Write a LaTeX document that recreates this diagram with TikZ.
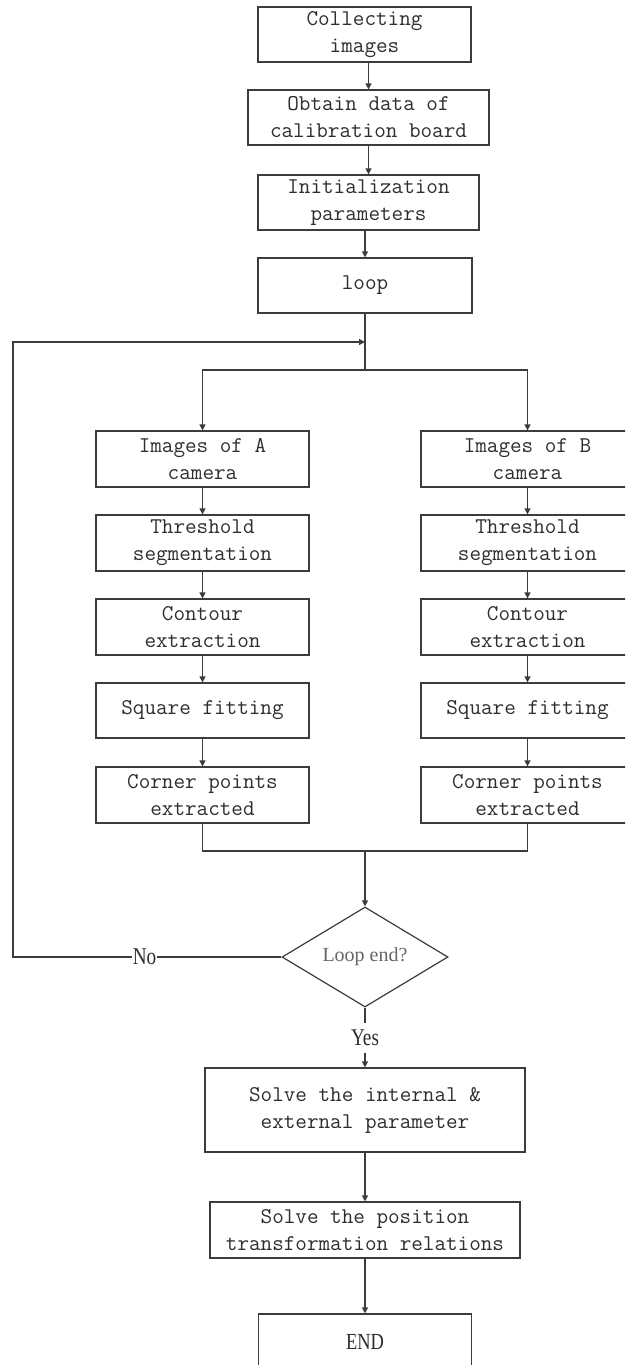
\documentclass[tikz,border=0pt]{standalone}
\usepackage{fontspec}
\setmainfont{Liberation Serif}
\newfontfamily\condfont[FakeStretch=0.8]{Liberation Serif}
\usetikzlibrary{arrows.meta,shapes.geometric}
\definecolor{lncol}{HTML}{3C3C3C}
\definecolor{txcol}{HTML}{2E2E2E}
\begin{document}
\begin{tikzpicture}[x=1pt,y=-1pt,
  box/.style={draw=lncol, line width=1.2pt, align=center, inner sep=0pt,
    font=\ttfamily\fontsize{22.5}{27}\selectfont, text=txcol, minimum height=55pt},
  arr/.style={draw=lncol, line width=1.2pt, -{Triangle[length=6pt,width=6pt]}},
  ln/.style={draw=lncol, line width=1.2pt},
  lbl/.style={fill=white, inner sep=1pt, text=txcol, font=\condfont\fontsize{24}{24}\selectfont},
  dec/.style={draw=lncol, line width=1.2pt, diamond, aspect=1.66, inner sep=0pt,
    minimum width=166pt, minimum height=100pt, text=black!60,
    font=\rmfamily\fontsize{20}{20}\selectfont}
]
\useasboundingbox (0,0) rectangle (625,1365);
\clip (0,0) rectangle (625,1365);
\fill[white] (0,0) rectangle (625,1365);

% top chain
\node[box, minimum width=213pt] (c1) at (364.5,34.5) {Collecting\\images};
\node[box, minimum width=241pt] (c2) at (368.5,117.5) {Obtain data of\\calibration board};
\node[box, minimum width=221pt] (c3) at (368.5,202.5) {Initialization\\parameters};
\node[box, minimum width=214pt] (lp) at (365,285.5) {loop};

\draw[arr] (c2.north |- c1.south) -- (c2.north);
\draw[arr] (c3.north |- c2.south) -- (c3.north);
\draw[arr] (lp.north |- c3.south) -- (lp.north);

% branches
\coordinate (jn) at (365,342);
\coordinate (br) at (365,370);
\coordinate (mg) at (365,851);

\node[box, minimum width=213pt, minimum height=56pt] (ia) at (202.5,459) {Images of A\\camera};
\node[box, minimum width=213pt, minimum height=56pt] (ta) at (202.5,543) {Threshold\\segmentation};
\node[box, minimum width=213pt, minimum height=56pt] (oa) at (202.5,627) {Contour\\extraction};
\node[box, minimum width=213pt] (sa) at (202.5,710.5) {Square fitting};
\node[box, minimum width=213pt, minimum height=56pt] (ka) at (202.5,795) {Corner points\\extracted};

\node[box, minimum width=213pt, minimum height=56pt] (ib) at (527.5,459) {Images of B\\camera};
\node[box, minimum width=213pt, minimum height=56pt] (tb) at (527.5,543) {Threshold\\segmentation};
\node[box, minimum width=213pt, minimum height=56pt] (ob) at (527.5,627) {Contour\\extraction};
\node[box, minimum width=213pt] (sb) at (527.5,710.5) {Square fitting};
\node[box, minimum width=213pt, minimum height=56pt] (kb) at (527.5,795) {Corner points\\extracted};

\draw[ln] (lp.south) -- (br);
\draw[arr] (br) -| (ia.north);
\draw[arr] (br) -| (ib.north);

\draw[arr] (ia) -- (ta);
\draw[arr] (ta) -- (oa);
\draw[arr] (oa) -- (sa);
\draw[arr] (sa) -- (ka);
\draw[arr] (ib) -- (tb);
\draw[arr] (tb) -- (ob);
\draw[arr] (ob) -- (sb);
\draw[arr] (sb) -- (kb);

\draw[ln] (ka.south) |- (kb.south |- mg) -- (kb.south);

% decision
\node[dec] (d) at (365,957) {Loop end?};
\draw[arr] (mg) -- (d.north);

\draw[arr] (d.west) -- node[lbl, pos=0.51] {No} (13,957) -- (13,342) -- (jn);

% bottom chain
\node[box, minimum width=320pt, minimum height=84pt] (s1) at (365,1110) {Solve the internal \&\\external parameter};
\node[box, minimum width=310pt, minimum height=56pt] (s2) at (365,1230) {Solve the position\\transformation relations};
\node[box, minimum width=213pt, minimum height=56pt, font=\condfont\fontsize{23}{23}\selectfont] (en) at (365,1342) {END};

\draw[arr] (d.south) -- node[lbl, minimum height=30pt, inner sep=0pt, pos=0.5] {Yes} (s1.north);
\draw[arr] (s1) -- (s2);
\draw[arr] (s2) -- (en);
\end{tikzpicture}
\end{document}
